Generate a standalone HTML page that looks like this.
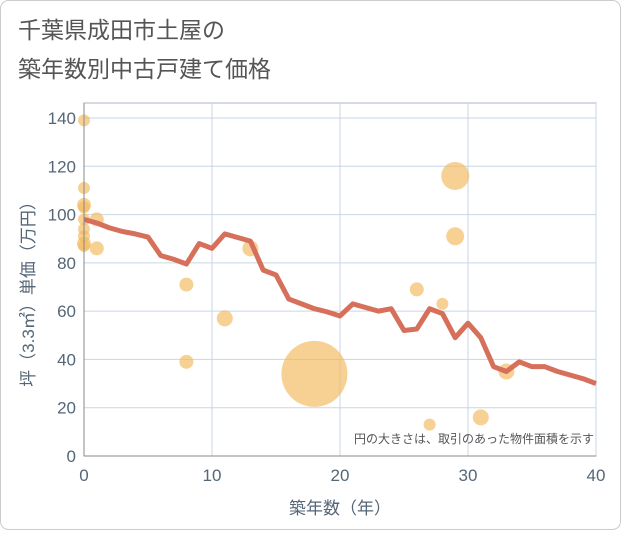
<!DOCTYPE html>
<html><head><meta charset="utf-8"><style>
body{margin:0;background:#fff;font-family:"Liberation Sans","Noto Sans CJK JP",sans-serif}
</style></head><body>
<svg width="621" height="530" xmlns="http://www.w3.org/2000/svg">
<rect x="0.5" y="0.5" width="620" height="529" rx="8" fill="#fff" stroke="#ccc"/>
<text x="18" y="38" font-size="23" fill="#555">千葉県成田市土屋の</text>
<text x="18" y="77" font-size="23" fill="#555">築年数別中古戸建て価格</text>
<g id="grid"></g><g id="bubbles"></g><g id="line"></g><g id="axes"></g>
<text x="594" y="443" font-size="12" fill="#555" text-anchor="end">円の大きさは、取引のあった物件面積を示す</text>
<text x="340" y="514" font-size="17" fill="#556677" text-anchor="middle">築年数（年）</text>
<text transform="translate(34,290) rotate(-90)" font-size="17" fill="#556677" text-anchor="middle">坪（3.3㎡）単価（万円）</text>
</svg>
<script>
const xTicks=[0,10,20,30,40];
const yTicks=[0,20,40,60,80,100,120,140];
const lineAges=[0,1,2,3,4,5,6,7,8,9,10,11,12,13,14,15,16,17,18,19,20,21,22,23,24,25,26,27,28,29,30,31,32,33,34,35,36,37,38,39,40];
const lineValues=[98,96.5,94.5,93,92,90.7,83,81.5,79.5,88,86,92,90.5,89,77,75,65,63,61,59.7,58,63,61.5,60,61,52,52.6,61,59,49,55,49,37,35,39,37,37,35,33.5,32,30];
const bubbleAges=[0,0,0,0,0,0,0,0,0,1,1,8,8,11,13,18,26,27,28,29,29,31,33];
const bubbleValues=[139,111,104,103,98,94,91,88,87,98,86,71,39,57,86,34,69,13,63,116,91,16,35];
const bubbleSizes=[6,6,7,6,6,6,6,7,6,7,7,7,7,8,8,33,7,6,6,14,9,8,8];
const X0=84,X1=596,Y0=456,Y1=103;
const xs=a=>X0+(X1-X0)*a/40, ys=v=>Y0-(Y0-118)*v/140;
const NS="http://www.w3.org/2000/svg";
function mk(t,p,at){const e=document.createElementNS(NS,t);for(const k in at)e.setAttribute(k,at[k]);p.appendChild(e);return e;}
const grid=document.getElementById('grid'),axes=document.getElementById('axes');
mk('rect',grid,{x:X0,y:Y1,width:X1-X0,height:Y0-Y1,fill:'none',stroke:'#aab4c0'});
yTicks.forEach(v=>{const l=mk('line',grid,{x1:X0,x2:X1,y1:ys(v),y2:ys(v),stroke:'#c8d6e4'});

const t=mk('text',axes,{x:X0-8,y:ys(v)+6,'font-size':17,fill:'#556677','text-anchor':'end'});t.textContent=v;
});
xTicks.forEach(a=>{const l=mk('line',grid,{x1:xs(a),x2:xs(a),y1:Y1,y2:Y0,stroke:'#c8d6e4'});

const t=mk('text',axes,{x:xs(a),y:481,'font-size':17,fill:'#556677','text-anchor':'middle'});t.textContent=a;
});
mk('line',axes,{x1:X0,x2:X0,y1:Y1,y2:Y0,stroke:'#888'});mk('line',axes,{x1:X0,x2:X1,y1:Y0,y2:Y0,stroke:'#888'});
const bg=document.getElementById('bubbles');
bubbleAges.forEach((a,i)=>{const c=mk('circle',bg,{cx:xs(a),cy:ys(bubbleValues[i]),r:bubbleSizes[i],fill:'#f3b85a','fill-opacity':0.65});
});
const p=mk('polyline',document.getElementById('line'),{points:lineAges.map((a,i)=>xs(a)+','+ys(lineValues[i])).join(' '),fill:'none',stroke:'#d6705a','stroke-width':5,'stroke-linejoin':'round'});

</script>
</body></html>
